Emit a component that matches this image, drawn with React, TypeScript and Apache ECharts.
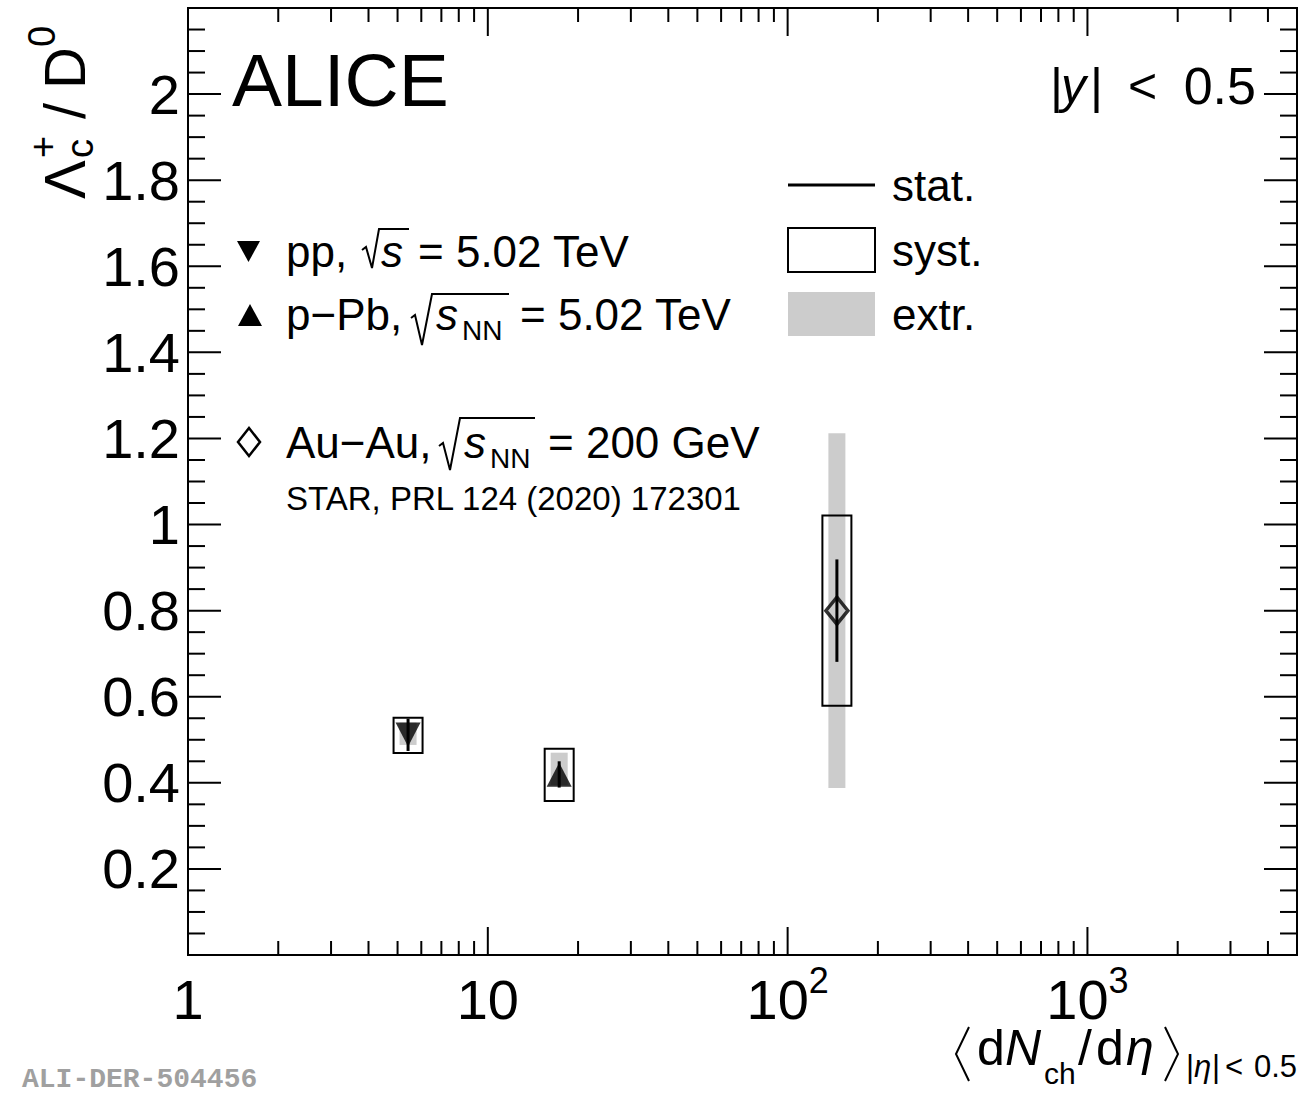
import React, { useEffect, useRef } from 'react';
import * as echarts from 'echarts';

// ---------- data ----------
const systems = ['pp', 'p−Pb', 'Au−Au'];
const dNchDeta = [5.42, 17.3, 146];
const ratio = [0.512, 0.419, 0.8];
const statLow = [0.474, 0.389, 0.681];
const statHigh = [0.549, 0.45, 0.919];
const systLow = [0.469, 0.358, 0.579];
const systHigh = [0.551, 0.479, 1.021];
const extrLow = [0.488, 0.395, 0.388];
const extrHigh = [0.54, 0.47, 1.212];
const markerSymbols = ['triangle', 'triangle', 'diamond'];
const markerRotations = [180, 0, 0];
const markerFilled = [true, true, false];

const xRange = [1, 5000];
const yRange = [0, 2.2];
const yInterval = 0.2;
const xMajorTicks = [10, 100, 1000];
const xMinorTicks = [2, 3, 4, 5, 6, 7, 8, 9, 20, 30, 40, 50, 60, 70, 80, 90, 200, 300, 400, 500, 600, 700, 800, 900, 2000, 3000, 4000];
const yMajorTicks = [0.2, 0.4, 0.6, 0.8, 1.0, 1.2, 1.4, 1.6, 1.8, 2.0];
const yMinorTicks = [0.05, 0.1, 0.15, 0.25, 0.3, 0.35, 0.45, 0.5, 0.55, 0.65, 0.7, 0.75, 0.85, 0.9, 0.95, 1.05, 1.1, 1.15, 1.25, 1.3, 1.35, 1.45, 1.5, 1.55, 1.65, 1.7, 1.75, 1.85, 1.9, 1.95, 2.05, 2.1, 2.15];
const xLabelValues = [1, 10, 100, 1000];
const xLabelBases = ['1', '10', '10', '10'];
const xLabelExponents = ['', '', '2', '3'];

const FONT = '"Liberation Sans", Arial, Helvetica, sans-serif';
const GREY = '#cccccc';

function T(text: string, x: number, y: number, size: number, opts: any = {}) {
  return {
    type: 'text',
    x,
    y,
    silent: true,
    style: {
      text,
      fontSize: size,
      fontFamily: opts.family || FONT,
      fontStyle: opts.italic ? 'italic' : 'normal',
      fontWeight: opts.bold ? 'bold' : 'normal',
      fill: opts.fill || '#000',
      lineHeight: opts.lineHeight,
      align: opts.align || 'left',
      verticalAlign: 'middle',
      textAlign: opts.align || 'left',
      textVerticalAlign: 'middle',
    },
  };
}

function PL(points: number[][], lw = 2) {
  return { type: 'polyline', silent: true, shape: { points }, style: { stroke: '#000', lineWidth: lw, fill: 'none' } };
}

export default function App() {
  const ref = useRef<HTMLDivElement>(null);
  useEffect(() => {
    document.body.style.margin = '0';
    const chart = echarts.init(ref.current!, null, { renderer: 'svg' });

    const errorData = dNchDeta.map((x, i) => [x, ratio[i], statLow[i], statHigh[i], systLow[i], systHigh[i], extrLow[i], extrHigh[i]]);
    const markerData = dNchDeta.map((x, i) => ({
      name: systems[i],
      value: [x, ratio[i]],
      symbol: markerSymbols[i],
      symbolRotate: markerRotations[i],
      symbolSize: markerSymbols[i] === 'diamond' ? [22, 27] : [25, 24],
      itemStyle: markerFilled[i]
        ? { color: '#000', borderWidth: 0 }
        : { color: 'rgba(0,0,0,0)', borderColor: '#000', borderWidth: 3.5 },
    }));
    const xTickData = [...xMajorTicks.map((v) => [v, 1, 1]), ...xMinorTicks.map((v) => [v, 1, 0])];
    const yTickData = [...yMajorTicks.map((v) => [2, v, 1]), ...yMinorTicks.map((v) => [2, v, 0])];
    const xLabelData = xLabelValues.map((v, i) => [v, 1, i]);

    const TL = { lineHeight: 40 };
    const MAIN = 56;
    const SUP = 36;
    // approximate advance widths for Liberation Sans digits
    const digitW = 0.556;

    const option: any = {
      animation: false,
      backgroundColor: '#fff',
      grid: {
        left: 188,
        right: 4,
        top: 8,
        bottom: 139,
        show: true,
        borderColor: '#000',
        borderWidth: 2,
        backgroundColor: 'rgba(0,0,0,0)',
        outerBoundsMode: 'none',
      },
      xAxis: {
        type: 'log',
        logBase: 10,
        min: xRange[0],
        max: xRange[1],
        axisLine: { show: false },
        axisTick: { show: false },
        splitLine: { show: false },
        minorTick: { show: false },
        axisLabel: { show: false },
      },
      yAxis: {
        type: 'value',
        min: yRange[0],
        max: yRange[1],
        interval: yInterval,
        axisLine: { show: false },
        axisTick: { show: false },
        splitLine: { show: false },
        axisLabel: {
          margin: 8,
          fontSize: 56,
          fontFamily: FONT,
          color: '#000',
          formatter: (v: number) => (v < 0.1 || v > 2.1 ? '' : String(+v.toFixed(1))),
        },
      },
      series: [
        {
          type: 'custom',
          name: 'xticks',
          silent: true,
          z: 1,
          data: xTickData,
          encode: { x: 0, y: 1 },
          renderItem: (params: any, api: any) => {
            const v = api.value(0);
            const b = api.coord([v, yRange[0]]);
            const t = api.coord([v, yRange[1]]);
            const L = api.value(2) ? 28 : 14;
            return {
              type: 'group',
              children: [
                { type: 'line', shape: { x1: b[0], y1: b[1], x2: b[0], y2: b[1] - L }, style: { stroke: '#000', lineWidth: 2 } },
                { type: 'line', shape: { x1: t[0], y1: t[1], x2: t[0], y2: t[1] + L }, style: { stroke: '#000', lineWidth: 2 } },
              ],
            };
          },
        },
        {
          type: 'custom',
          name: 'yticks',
          silent: true,
          z: 1,
          data: yTickData,
          encode: { x: 0, y: 1 },
          renderItem: (params: any, api: any) => {
            const v = api.value(1);
            const l = api.coord([xRange[0], v]);
            const r = api.coord([xRange[1], v]);
            const L = api.value(2) ? 33 : 17;
            return {
              type: 'group',
              children: [
                { type: 'line', shape: { x1: l[0], y1: l[1], x2: l[0] + L, y2: l[1] }, style: { stroke: '#000', lineWidth: 2 } },
                { type: 'line', shape: { x1: r[0], y1: r[1], x2: r[0] - L, y2: r[1] }, style: { stroke: '#000', lineWidth: 2 } },
              ],
            };
          },
        },
        {
          type: 'custom',
          name: 'xlabels',
          silent: true,
          clip: false,
          z: 1,
          data: xLabelData,
          encode: { x: 0, y: 1 },
          renderItem: (params: any, api: any) => {
            const i = api.value(2);
            const p = api.coord([api.value(0), yRange[0]]);
            const base = xLabelBases[i];
            const exp = xLabelExponents[i];
            const wBase = base.length * digitW * MAIN;
            const wExp = exp.length * digitW * SUP;
            const left = p[0] - (wBase + wExp) / 2;
            const cy = p[1] + 44;
            const children: any[] = [
              {
                type: 'text',
                x: left,
                y: cy,
                style: { text: base, fontSize: MAIN, fontFamily: FONT, fill: '#000', align: 'left', verticalAlign: 'middle', lineHeight: 44 },
              },
            ];
            if (exp) {
              children.push({
                type: 'text',
                x: left + wBase,
                y: cy - 19,
                style: { text: exp, fontSize: SUP, fontFamily: FONT, fill: '#000', align: 'left', verticalAlign: 'middle', lineHeight: 28 },
              });
            }
            return { type: 'group', children };
          },
        },
        {
          type: 'custom',
          name: 'uncertainties',
          silent: true,
          z: 2,
          data: errorData,
          encode: { x: 0, y: 1 },
          renderItem: (params: any, api: any) => {
            const x = api.value(0);
            const c = api.coord([x, api.value(1)]);
            const sLo = api.coord([x, api.value(2)]);
            const sHi = api.coord([x, api.value(3)]);
            const yLo = api.coord([x, api.value(4)]);
            const yHi = api.coord([x, api.value(5)]);
            const eLo = api.coord([x, api.value(6)]);
            const eHi = api.coord([x, api.value(7)]);
            return {
              type: 'group',
              children: [
                { type: 'rect', shape: { x: c[0] - 8.5, y: eHi[1], width: 17, height: eLo[1] - eHi[1] }, style: { fill: GREY } },
                { type: 'rect', shape: { x: c[0] - 14.5, y: yHi[1], width: 29, height: yLo[1] - yHi[1] }, style: { fill: 'none', stroke: '#000', lineWidth: 2 } },
                { type: 'line', shape: { x1: c[0], y1: sLo[1], x2: c[0], y2: sHi[1] }, style: { stroke: '#000', lineWidth: 3 } },
              ],
            };
          },
        },
        {
          type: 'scatter',
          name: 'points',
          z: 3,
          silent: true,
          data: markerData,
        },
      ],
      graphic: [
        // ALICE label
        T('ALICE', 232, 80, 75),
        // |y| < 0.5
        T('|', 1050, 86, 50),
        T('y', 1061, 86, 50, { italic: true }),
        T('|', 1090, 86, 50),
        T('<', 1128, 86, 50),
        T('0.5', 1256, 86, 52, { align: 'right' }),
        // left legend
        { type: 'polygon', silent: true, shape: { points: [[237, 241], [260, 241], [248.5, 262]] }, style: { fill: '#000' } },
        T('pp,', 286, 251, 44),
        PL([[362, 250], [366, 247], [372, 268], [379, 229], [409, 229]]),
        T('s', 381, 251, 44, { italic: true }),
        T('= 5.02 TeV', 418, 251, 44),

        { type: 'polygon', silent: true, shape: { points: [[238, 326], [262, 326], [250, 304]] }, style: { fill: '#000' } },
        T('p−Pb,', 286, 314, 44),
        PL([[411, 318], [415, 315], [422, 345], [432, 294], [509, 294]]),
        T('s', 436, 314, 44, { italic: true }),
        T('NN', 462, 330, 28),
        T('= 5.02 TeV', 520, 314, 44),

        { type: 'polygon', silent: true, shape: { points: [[249, 428], [260, 442], [249, 456], [238, 442]] }, style: { fill: 'none', stroke: '#000', lineWidth: 2.5 } },
        T('Au−Au,', 286, 442, 44),
        PL([[439, 446], [443, 443], [450, 470], [460, 418], [535, 418]]),
        T('s', 464, 442, 44, { italic: true }),
        T('NN', 490, 458, 28),
        T('= 200 GeV', 548, 442, 44),
        T('STAR, PRL 124 (2020) 172301', 286, 498, 33),

        // right legend
        { type: 'line', silent: true, shape: { x1: 788, y1: 185, x2: 875, y2: 185 }, style: { stroke: '#000', lineWidth: 3 } },
        T('stat.', 892, 185, 44),
        { type: 'rect', silent: true, shape: { x: 788, y: 228, width: 87, height: 44 }, style: { fill: 'none', stroke: '#000', lineWidth: 2 } },
        T('syst.', 892, 250, 44),
        { type: 'rect', silent: true, shape: { x: 788, y: 292, width: 87, height: 44 }, style: { fill: GREY } },
        T('extr.', 892, 314, 44),

        // y axis title (rotated)
        {
          type: 'group',
          x: 84,
          y: 199,
          rotation: Math.PI / 2,
          silent: true,
          children: [
            T('Λ', 0, -20, 58),
            T('c', 41, -4, 38),
            T('+', 41, -41, 38),
            T('/', 80, -20, 58),
            T('D', 110, -20, 58),
            T('0', 152, -42, 38),
          ],
        },

        // x axis title
        PL([[969, 1027], [956, 1054], [969, 1081]]),
        T('d', 977, 1048, 50, TL),
        T('N', 1005, 1048, 50, { italic: true, lineHeight: 40 }),
        T('ch', 1044, 1073, 30, { lineHeight: 26 }),
        T('/', 1078, 1048, 50, TL),
        T('d', 1096, 1048, 50, TL),
        T('η', 1126, 1048, 50, { italic: true, lineHeight: 40 }),
        PL([[1165, 1027], [1178, 1054], [1165, 1081]]),
        T('|', 1186, 1066, 31, { lineHeight: 26 }),
        T('η', 1194, 1066, 31, { italic: true, lineHeight: 26 }),
        T('|', 1212, 1066, 31, { lineHeight: 26 }),
        T('<', 1225, 1066, 31, { lineHeight: 26 }),
        T('0.5', 1297, 1066, 31, { align: 'right', lineHeight: 26 }),

        // watermark
        T('ALI-DER-504456', 22, 1079, 28, { family: '"Liberation Mono", "DejaVu Sans Mono", monospace', bold: true, fill: '#a0a0a0', lineHeight: 26 }),
      ],
    };

    chart.setOption(option);
    return () => chart.dispose();
  }, []);
  return <div ref={ref} style={{ width: 1301, height: 1094 }} />;
}
